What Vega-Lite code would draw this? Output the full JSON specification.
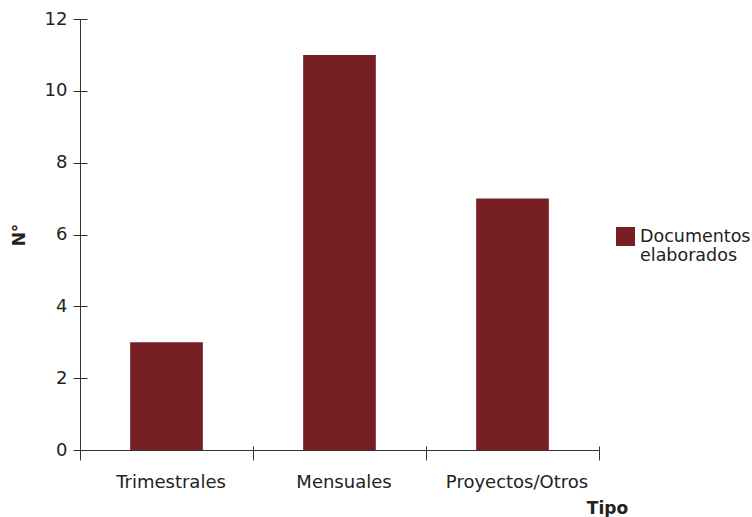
{
  "$schema": "https://vega.github.io/schema/vega-lite/v6.json",
  "width": 519,
  "height": 431,
  "autosize": "none",
  "padding": {"left": 80, "top": 19, "right": 153, "bottom": 67},
  "background": "white",
  "config": {
    "view": {"stroke": null},
    "font": "DejaVu Sans",
    "axis": {"grid": false, "domainColor": "#333333", "tickColor": "#333333", "labelColor": "#222222", "labelFont": "DejaVu Sans", "labelFontSize": 18, "titleFont": "DejaVu Sans", "titleFontSize": 17, "titleFontWeight": "bold", "titleColor": "#222222"}
  },
  "data": {"values": [
    {"Tipo": "Trimestrales", "N": 3, "Serie": "Documentos elaborados"},
    {"Tipo": "Mensuales", "N": 11, "Serie": "Documentos elaborados"},
    {"Tipo": "Proyectos/Otros", "N": 7, "Serie": "Documentos elaborados"}
  ]},
  "layer": [
    {
      "mark": {"type": "bar", "width": {"band": 0.42}},
      "encoding": {
        "x": {"field": "Tipo", "type": "nominal", "sort": null,
          "scale": {"paddingInner": 0, "paddingOuter": 0},
          "axis": {"labelAngle": 0, "title": "Tipo", "titleX": 527, "titleY": 50, "titleAlign": "center", "titleBaseline": "top", "tickBand": "extent", "tickSize": 10, "labelPadding": 13, "labelOffset": 4}},
        "y": {"field": "N", "type": "quantitative",
          "scale": {"domain": [0, 12]},
          "axis": {"title": "N°", "values": [0, 2, 4, 6, 8, 10, 12], "tickSize": 7, "labelPadding": 6, "titlePadding": 16}},
        "color": {"field": "Serie", "type": "nominal",
          "scale": {"range": ["#761f24"]},
          "legend": {"title": null, "orient": "none", "legendX": 535, "legendY": 207, "symbolType": "square", "symbolSize": 361, "symbolOpacity": 1, "labelFontSize": 17.5, "labelFont": "DejaVu Sans", "labelColor": "#222222", "labelExpr": "['Documentos', 'elaborados']", "labelBaseline": "middle", "labelOffset": 4}}
      }
    },
    {
      "mark": {"type": "bar", "opacity": 0, "width": {"band": 0.42}},
      "encoding": {
        "x": {"field": "Tipo", "type": "nominal", "sort": null,
          "axis": {"orient": "bottom", "labels": false, "title": null, "domain": false, "tickBand": "extent", "tickSize": -4}},
        "y": {"field": "N", "type": "quantitative",
          "axis": {"orient": "left", "labels": false, "title": null, "domain": false, "values": [0, 2, 4, 6, 8, 10, 12], "tickSize": -7}}
      }
    }
  ],
  "resolve": {"axis": {"x": "independent", "y": "independent"}}
}
